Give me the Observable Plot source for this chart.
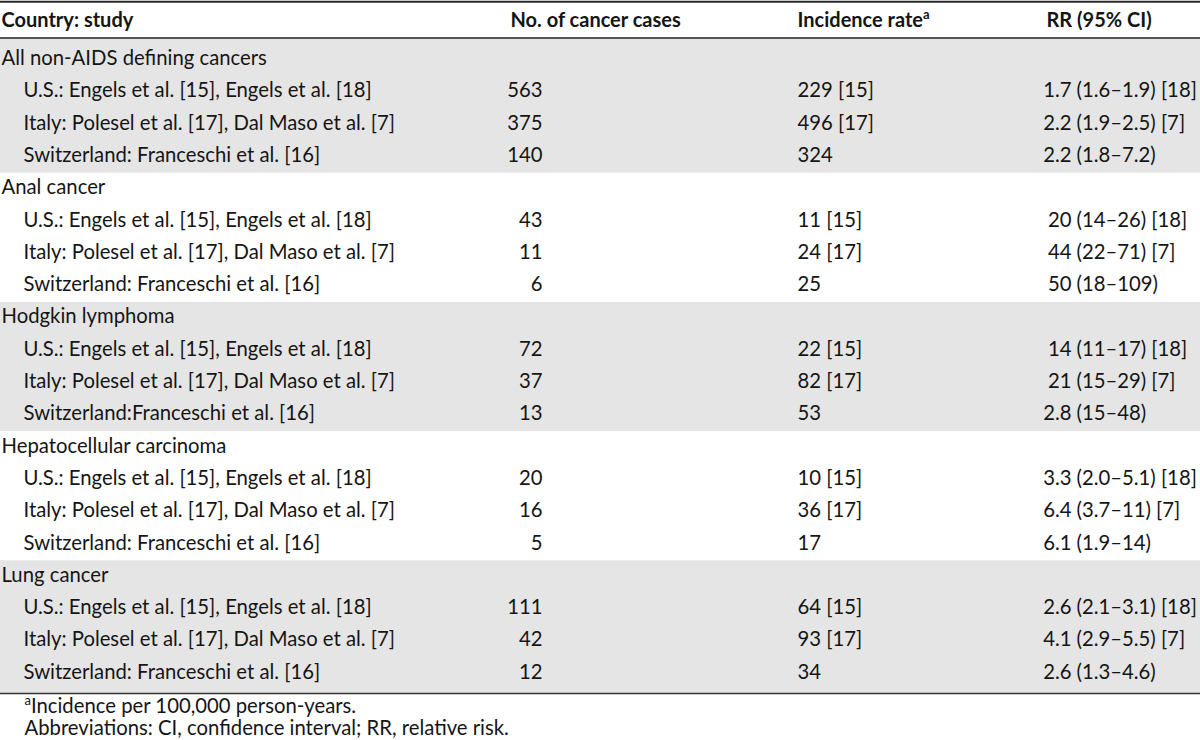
<!DOCTYPE html>
<html><head><meta charset="utf-8">
<script src="https://cdn.jsdelivr.net/npm/d3@7"></script>
<script src="https://cdn.jsdelivr.net/npm/@observablehq/plot@0.6"></script>
<style>html,body{margin:0;padding:0;background:#fff} svg{display:block}</style>
</head><body><div id="chart"></div>
<script>
// ---- data ----
const headers = ["Country: study", "No. of cancer cases", "Incidence rate", "RR (95% CI)"];
const headerSup = "a";
const groups = ["All non-AIDS defining cancers", "Anal cancer", "Hodgkin lymphoma", "Hepatocellular carcinoma", "Lung cancer"];
const studies = [
  "U.S.: Engels et al. [15], Engels et al. [18]", "Italy: Polesel et al. [17], Dal Maso et al. [7]", "Switzerland: Franceschi et al. [16]",
  "U.S.: Engels et al. [15], Engels et al. [18]", "Italy: Polesel et al. [17], Dal Maso et al. [7]", "Switzerland: Franceschi et al. [16]",
  "U.S.: Engels et al. [15], Engels et al. [18]", "Italy: Polesel et al. [17], Dal Maso et al. [7]", "Switzerland:Franceschi et al. [16]",
  "U.S.: Engels et al. [15], Engels et al. [18]", "Italy: Polesel et al. [17], Dal Maso et al. [7]", "Switzerland: Franceschi et al. [16]",
  "U.S.: Engels et al. [15], Engels et al. [18]", "Italy: Polesel et al. [17], Dal Maso et al. [7]", "Switzerland: Franceschi et al. [16]"
];
const cases = [563, 375, 140, 43, 11, 6, 72, 37, 13, 20, 16, 5, 111, 42, 12];
const incidence = ["229 [15]", "496 [17]", "324", "11 [15]", "24 [17]", "25", "22 [15]", "82 [17]", "53", "10 [15]", "36 [17]", "17", "64 [15]", "93 [17]", "34"];
const rr = ["1.7 (1.6–1.9) [18]", "2.2 (1.9–2.5) [7]", "2.2 (1.8–7.2)",
  "20 (14–26) [18]", "44 (22–71) [7]", "50 (18–109)",
  "14 (11–17) [18]", "21 (15–29) [7]", "2.8 (15–48)",
  "3.3 (2.0–5.1) [18]", "6.4 (3.7–11) [7]", "6.1 (1.9–14)",
  "2.6 (2.1–3.1) [18]", "4.1 (2.9–5.5) [7]", "2.6 (1.3–4.6)"];
const footnotes = ["Incidence per 100,000 person-years.", "Abbreviations: CI, confidence interval; RR, relative risk."];

// ---- layout ----
const W = 1200, H = 740;
const ROW0 = 58, PITCH = 32.3;
const toI = px => (px - ROW0) / PITCH;
const col = {study: 1, indent: 23, casesRight: 542, casesHead: 510, inc: 797, rrSplit: 1071, rrHead: 1046};
const INK = "#151515";

const rows = [];
groups.forEach((g, gi) => {
  rows.push({i: gi * 4, kind: "group", label: g});
  for (let k = 0; k < 3; k++) {
    const j = gi * 3 + k, s = rr[j], sp = s.indexOf(" ");
    rows.push({i: gi * 4 + k + 1, kind: "study", label: studies[j], cases: cases[j], inc: incidence[j],
      est: s.slice(0, sp), ci: s.slice(sp + 1)});
  }
});
const studyRows = rows.filter(d => d.kind === "study");
const bands = groups.map((g, gi) => ({gi,
  y1: gi === 0 ? toI(37.5) : gi * 4 - 0.45,
  y2: gi === groups.length - 1 ? toI(693) : gi * 4 + 3.55})).filter(d => d.gi % 2 === 0);

const headerCells = headers.map((h, k) => ({h, x: [col.study, col.casesHead, col.inc, col.rrHead][k]}));

const chart = Plot.plot({
  width: W, height: H, margin: 0,
  x: {domain: [0, W], range: [0, W], axis: null},
  y: {domain: [toI(0), toI(H)], range: [0, H], axis: null},
  style: {fontFamily: "Lato, 'Open Sans', sans-serif", fontSize: "20.3px", color: INK, background: "#fff"},
  marks: [
    Plot.rect(bands, {y1: "y1", y2: "y2", fill: "#e5e5e5"}),
    Plot.ruleY([toI(1.2)], {stroke: "#2a2a2a", strokeWidth: 2}),
    Plot.ruleY([toI(37.5)], {stroke: "#555", strokeWidth: 2}),
    Plot.ruleY([toI(693)], {stroke: "#333", strokeWidth: 1.6}),
    Plot.text(headerCells, {x: "x", y: toI(20), text: "h", textAnchor: "start", fontWeight: "bold", fontSize: 20, fill: INK}),
    Plot.text(rows.filter(d => d.kind === "group"), {x: col.study, y: "i", text: "label", textAnchor: "start", fill: INK}),
    Plot.text(studyRows, {x: col.indent, y: "i", text: "label", textAnchor: "start", fill: INK}),
    Plot.text(studyRows, {x: col.casesRight, y: "i", text: d => String(d.cases), textAnchor: "end", fill: INK}),
    Plot.text(studyRows, {x: col.inc, y: "i", text: "inc", textAnchor: "start", fill: INK}),
    Plot.text(studyRows, {x: col.rrSplit, y: "i", text: "est", textAnchor: "end", fill: INK}),
    Plot.text(studyRows, {x: col.rrSplit + 5, y: "i", text: "ci", textAnchor: "start", fill: INK}),
    Plot.text(footnotes, {x: 24, y: (d, k) => toI(k === 0 ? 706 : 728), text: d => d, textAnchor: "start", fill: INK})
  ]
});
document.getElementById("chart").appendChild(chart);

// superscripts inside the same text elements
const svg = d3.select(chart);
svg.selectAll("text").each(function() {
  const t = d3.select(this);
  if (this.textContent === headers[2]) {
    t.append("tspan").attr("font-size", 13).attr("dy", -8).text(headerSup);
  } else if (this.textContent === footnotes[0]) {
    const txt = this.textContent;
    this.textContent = "";
    t.append("tspan").attr("font-size", 13).attr("dy", -8).text(headerSup);
    t.append("tspan").attr("dy", 8).text(txt);
  }
});
</script>
</body></html>
